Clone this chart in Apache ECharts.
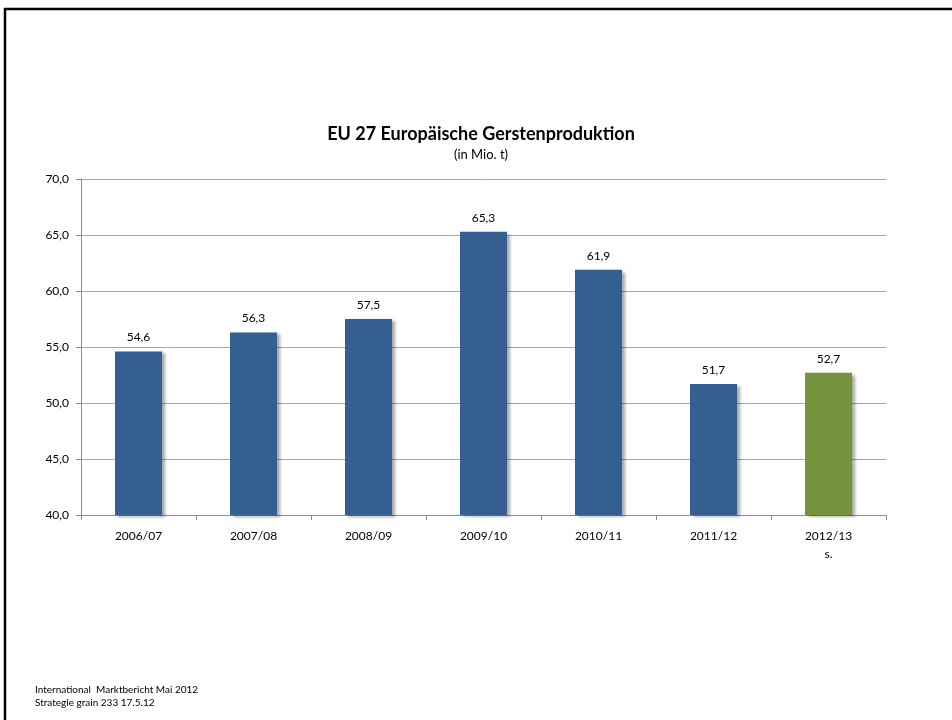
<!DOCTYPE html>
<html>
<head>
<meta charset="utf-8">
<script src="https://cdn.jsdelivr.net/npm/echarts@6/dist/echarts.min.js"></script>
<style>
  html, body { margin: 0; padding: 0; background: #fff; }
  #chart { width: 952px; height: 720px; }
</style>
</head>
<body>
<div id="chart"></div>
<script>
// EU-27 barley production by marketing year, million tonnes
const seasons = ['2006/07', '2007/08', '2008/09', '2009/10', '2010/11', '2011/12', '2012/13\ns.'];
const production = [54.6, 56.3, 57.5, 65.3, 61.9, 51.7, 52.7];
const yTicks = { min: 40, max: 70, step: 5 };

const FONT = 'Lato, "Open Sans", sans-serif';
const BLUE = '#355e91';
const GREEN = '#76923c';

const fmt = v => v.toFixed(1).replace('.', ',');

const chart = echarts.init(document.getElementById('chart'), null, { renderer: 'canvas' });

chart.setOption({
  backgroundColor: '#ffffff',
  animation: false,
  title: {
    text: 'EU 27 Europäische Gerstenproduktion',
    subtext: '(in Mio. t)',
    left: 476,
    textAlign: 'center',
    top: 120,
    itemGap: 5,
    textStyle: { fontFamily: FONT, fontSize: 18, fontWeight: 'bold', color: '#000' },
    subtextStyle: { fontFamily: FONT, fontSize: 13, color: '#000' }
  },
  grid: { left: 81, right: 66, top: 179, bottom: 205, containLabel: false },
  xAxis: {
    type: 'category',
    data: seasons,
    axisLine: { show: true, lineStyle: { color: '#8c8c8c', width: 1 } },
    axisTick: { show: true, length: 5, lineStyle: { color: '#8c8c8c' } },
    axisLabel: { fontFamily: FONT, fontSize: 12, color: '#000', margin: 12, lineHeight: 18 }
  },
  yAxis: {
    type: 'value',
    min: yTicks.min,
    max: yTicks.max,
    interval: yTicks.step,
    axisLine: { show: true, lineStyle: { color: '#8c8c8c', width: 1 } },
    axisTick: { show: true, length: 5, inside: false, lineStyle: { color: '#8c8c8c' } },
    axisLabel: { fontFamily: FONT, fontSize: 12, color: '#000', margin: 12, formatter: v => fmt(v) },
    splitLine: { show: true, lineStyle: { color: '#a6a6a6', width: 1 } }
  },
  series: [{
    type: 'bar',
    barWidth: 47,
    data: production.map((v, i) => ({
      value: v,
      itemStyle: { color: i === production.length - 1 ? GREEN : BLUE }
    })),
    itemStyle: {
      shadowColor: 'rgba(0,0,0,0.35)',
      shadowBlur: 3,
      shadowOffsetX: 3,
      shadowOffsetY: 2
    },
    label: {
      show: true,
      position: 'top',
      distance: 6,
      fontFamily: FONT,
      fontSize: 12,
      color: '#000',
      backgroundColor: '#fff',
      padding: [2, 5],
      formatter: p => fmt(p.value)
    }
  }],
  graphic: [
    {
      type: 'rect',
      shape: { x: 5, y: 9, width: 1000, height: 800 },
      style: { fill: 'none', stroke: '#000', lineWidth: 2.5 },
      silent: true
    },
    {
      type: 'text',
      left: 35,
      top: 683,
      style: {
        text: 'International  Marktbericht Mai 2012\nStrategie grain 233 17.5.12',
        fontFamily: FONT,
        fontSize: 10,
        lineHeight: 13,
        fill: '#000'
      }
    }
  ]
});
</script>
</body>
</html>
